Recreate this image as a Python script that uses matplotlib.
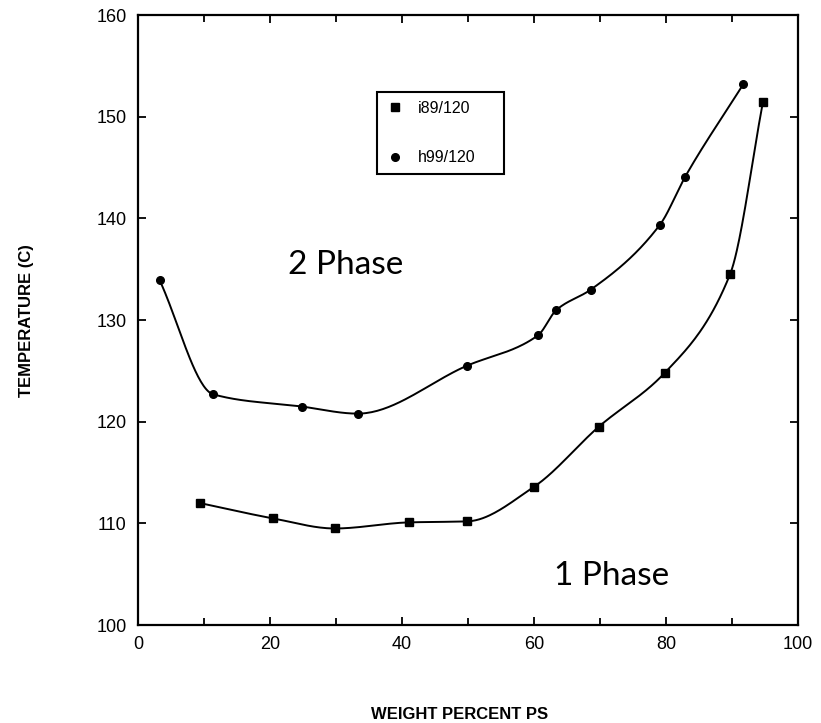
import matplotlib
matplotlib.use("Agg")
import matplotlib.pyplot as plt
import numpy as np

# Data
i89_x = [9.4, 20.4, 29.8, 41.1, 49.9, 60.0, 69.8, 79.8, 89.7, 94.7]
i89_y = [112.0, 110.5, 109.5, 110.1, 110.2, 113.6, 119.5, 124.8, 134.5, 151.5]
h99_x = [3.3, 11.4, 24.8, 33.3, 49.8, 60.6, 63.4, 68.6, 79.1, 82.9, 91.7]
h99_y = [133.9, 122.7, 121.5, 120.8, 125.5, 128.5, 131.0, 133.0, 139.4, 144.1, 153.2]
labels = ["i89/120", "h99/120"]


def pchip(xs, ys, n=40):
    # monotone cubic through the measured points (no overshoot)
    x = np.asarray(xs, float)
    y = np.asarray(ys, float)
    h = np.diff(x)
    d = np.diff(y) / h
    m = np.zeros_like(y)
    for k in range(1, len(x) - 1):
        if d[k - 1] * d[k] > 0:
            w1 = 2 * h[k] + h[k - 1]
            w2 = h[k] + 2 * h[k - 1]
            m[k] = (w1 + w2) / (w1 / d[k - 1] + w2 / d[k])
    m[0] = d[0]
    m[-1] = d[-1]
    xo, yo = [], []
    for k in range(len(x) - 1):
        t = np.linspace(0, 1, n)
        h00 = 2 * t**3 - 3 * t**2 + 1
        h10 = t**3 - 2 * t**2 + t
        h01 = -2 * t**3 + 3 * t**2
        h11 = t**3 - t**2
        xo.append(x[k] + t * h[k])
        yo.append(h00 * y[k] + h10 * h[k] * m[k] + h01 * y[k + 1] + h11 * h[k] * m[k + 1])
    return np.concatenate(xo), np.concatenate(yo)


plt.rcParams["font.family"] = ["Liberation Sans", "DejaVu Sans"]

fig = plt.figure(figsize=(8.21, 7.23), dpi=100)
ax = fig.add_axes([0.168, 0.1355, 0.804, 0.8435])

sx, sy = pchip(i89_x, i89_y)
ax.plot(sx, sy, color="black", lw=1.4)
sx, sy = pchip(h99_x, h99_y)
ax.plot(sx, sy, color="black", lw=1.4)

ax.plot(i89_x, i89_y, "s", color="black", ms=5.5, ls="none", label=labels[0])
ax.plot(h99_x, h99_y, "o", color="black", ms=5.5, ls="none", label=labels[1])

ax.set_xlim(0, 100)
ax.set_ylim(100, 160)
ax.set_xticks(np.arange(0, 101, 20))
ax.set_xticks(np.arange(0, 101, 10), minor=True)
ax.set_yticks(np.arange(100, 161, 10))
ax.tick_params(which="both", direction="in", top=True, right=True,
               labelsize=13, width=1.3)
ax.tick_params(which="major", length=6, pad=8)
ax.tick_params(which="minor", length=5)
for s in ax.spines.values():
    s.set_linewidth(1.6)

fig.text(0.032, 0.557, "TEMPERATURE (C)", rotation=90, ha="center",
         va="center", fontsize=12, fontweight="bold")
fig.text(0.56, 0.012, "WEIGHT PERCENT PS", ha="center", va="center",
         fontsize=12, fontweight="bold")

ax.text(31.5, 135.4, "2 Phase", fontsize=24, family="Lato",
        ha="center", va="center")
ax.text(71.8, 104.8, "1 Phase", fontsize=24, family="Lato",
        ha="center", va="center")

leg = ax.legend(loc="upper left", bbox_to_anchor=(0.362, 0.741, 0.193, 0.133),
                mode="expand", fancybox=False, edgecolor="black", framealpha=1,
                fontsize=11.5, labelspacing=2.15, handlelength=1.2,
                handletextpad=0.8, borderpad=0.55, borderaxespad=0,
                markerscale=1.0)
leg.get_frame().set_linewidth(1.5)

fig.savefig("out.png", dpi=100)
